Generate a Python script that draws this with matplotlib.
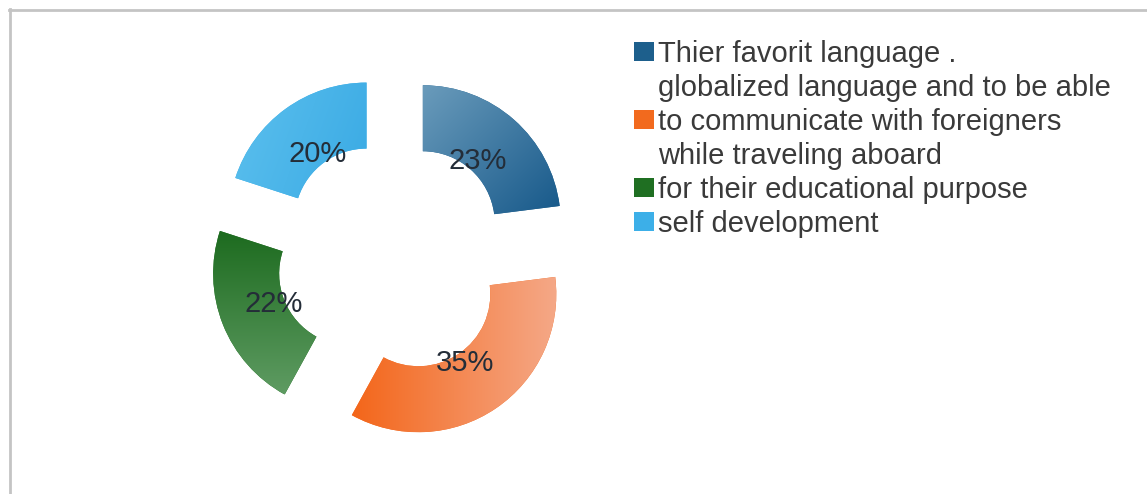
import numpy as np
import matplotlib
matplotlib.use("Agg")
import matplotlib.pyplot as plt
from matplotlib.colors import to_rgb
from matplotlib.patches import Rectangle
from matplotlib.lines import Line2D

plt.rcParams['font.family'] = ['Liberation Sans', 'DejaVu Sans']

labels = ["Thier favorit language .\nglobalized language and to be able",
          "to communicate with foreigners\nwhile traveling aboard",
          "for their educational purpose",
          "self development"]
shares = [23, 35, 22, 20]
legend_colors = ["#1d5f8c", "#f26a1e", "#1f6f22", "#3cafe8"]
# (start colour, end colour, direction of the shading in degrees)
shading = [("#6a9bbb", "#17598a", -45),
           ("#f3661a", "#f5a887", 0),
           ("#1d6b1f", "#5e9b62", -90),
           ("#5cc0ee", "#3aaae4", -20)]

W, H = 1147, 494
fig = plt.figure(figsize=(W / 100, H / 100), dpi=100)
ax = fig.add_axes([0, 0, 1, 1])

cx, cy, R = 393, H - 257, 138
wedges, texts, autotexts = ax.pie(
    shares, startangle=90, counterclock=False, center=(cx, cy), radius=R,
    explode=[45] * len(shares), colors=legend_colors,
    autopct='%1.0f%%', pctdistance=0.6,
    wedgeprops=dict(width=66, linewidth=0),
    textprops=dict(fontsize=21, color="#242d38"))


def shade(wedge, c1, c2, angle):
    x0, y0, x1, y1 = wedge.get_path().get_extents().extents
    n = 120
    gx, gy = np.meshgrid(np.linspace(0, 1, n), np.linspace(0, 1, n))
    dx, dy = np.cos(np.radians(angle)), np.sin(np.radians(angle))
    t = gx * (x1 - x0) * dx + gy * (y1 - y0) * dy
    t = (t - t.min()) / (t.max() - t.min())
    a, b = np.array(to_rgb(c1)), np.array(to_rgb(c2))
    img = a[None, None, :] * (1 - t[..., None]) + b[None, None, :] * t[..., None]
    im = ax.imshow(img, extent=(x0, x1, y0, y1), origin='lower',
                   interpolation='bilinear', zorder=2)
    im.set_clip_path(wedge)


for w, (c1, c2, ang) in zip(wedges, shading):
    shade(w, c1, c2, ang)
for t in autotexts:
    t.set_zorder(5)

ax.set_xlim(0, W)
ax.set_ylim(0, H)
ax.set_aspect('equal')
ax.axis('off')

# legend: square next to the first line of every entry
line_h = 34
row = 0
for lab, col in zip(labels, legend_colors):
    base = 62 + row * line_h
    ax.add_patch(Rectangle((634, H - 61 - row * line_h), 20, 19,
                           facecolor=col, edgecolor='none', zorder=3))
    for k, part in enumerate(lab.split("\n")):
        ax.text(658, H - base - k * line_h, part, fontsize=21,
                color="#3a3a3a", va='baseline', ha='left')
    row += lab.count("\n") + 1

# frame lines along the top and left side
fig.add_artist(Line2D([9 / W, 1], [1 - 10 / H] * 2, color="#c4c4c4", lw=2))
fig.add_artist(Line2D([10 / W] * 2, [0, 1 - 9 / H], color="#c4c4c4", lw=2))

fig.savefig("out.png", dpi=100)
